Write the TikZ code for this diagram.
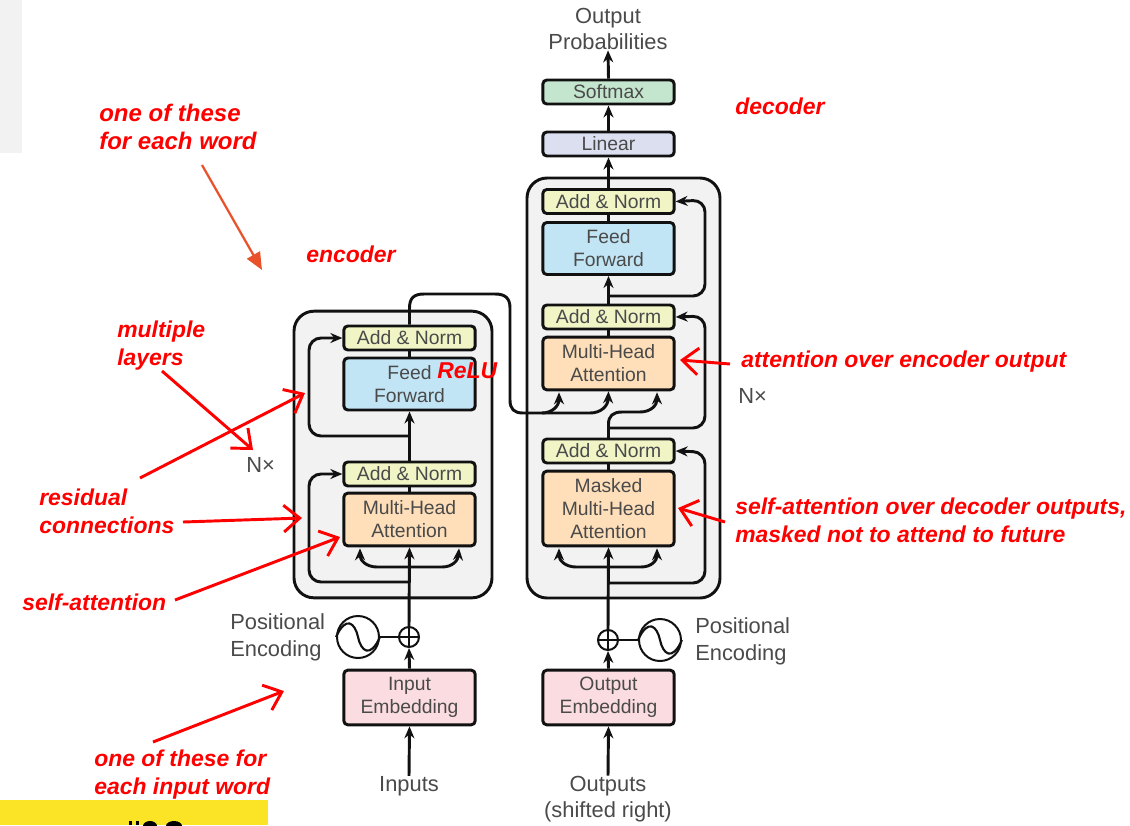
\documentclass[tikz,border=0pt]{standalone}
\usepackage{fontspec}
\setmainfont{Liberation Sans}
\usetikzlibrary{arrows.meta,calc}
\definecolor{panelgrey}{HTML}{F2F2F2}
\definecolor{addnorm}{HTML}{F1F5C6}
\definecolor{feedfwd}{HTML}{C2E5F5}
\definecolor{attn}{HTML}{FEDFB9}
\definecolor{embed}{HTML}{FBDCE0}
\definecolor{lineartone}{HTML}{DCDFF0}
\definecolor{softmaxtone}{HTML}{C5E6CE}
\definecolor{labelgrey}{HTML}{4A4A4A}
\definecolor{linecol}{HTML}{111111}
\definecolor{bannertone}{HTML}{FBE426}
\definecolor{orangearrow}{HTML}{E8512A}
\tikzset{
  x=0.75pt,y=-0.75pt,
  panel/.style={draw=linecol,fill=panelgrey,line width=2.2pt,rounded corners=15pt},
  block/.style={draw=linecol,line width=2.2pt,rounded corners=3pt,minimum width=98.5pt,inner sep=0pt,
     text=labelgrey,align=center,font=\fontsize{14.5}{17.2}\selectfont},
  lab/.style={text=labelgrey,inner sep=0pt,font=\fontsize{16.4}{20}\selectfont},
  note/.style={text=red,inner sep=0pt,align=left,font=\fontsize{17.2}{21}\selectfont\bfseries\itshape},
  wire/.style={draw=linecol,line width=2.2pt,rounded corners=9pt},
  thin wire/.style={draw=linecol,line width=1.6pt},
  tip/.style={-{Stealth[length=9pt,width=7.5pt]}},
  callout/.style={draw=red,line width=2.2pt,-{Straight Barb[length=12pt,width=20pt,line width=2.2pt]}},
}
\begin{document}
\begin{tikzpicture}
\useasboundingbox (0,0) rectangle (1130,825);
% background scraps
\fill[panelgrey] (0,0) rectangle (22,153);
\fill[bannertone] (0,800) rectangle (268,825);
\begin{scope}
\clip (0,800) rectangle (268,825);
\fill[black] (129,821) rectangle (132,825);
\fill[black] (136,821) rectangle (139,825);
\fill[black] (150,826) ellipse (7 and 5);
\fill[black] (174,826) ellipse (8 and 5);
\end{scope}
% panels
\node[panel,minimum width=148.5pt,minimum height=215pt,inner sep=0pt] (encpanel) at (393,454.5) {};
\node[panel,minimum width=144.75pt,minimum height=315pt,inner sep=0pt] (decpanel) at (623.5,388) {};
% encoder blocks
\node[block,fill=addnorm,minimum height=18pt] (ean2) at (409.5,338) {Add \& Norm};
\node[block,fill=feedfwd,minimum height=39pt] (eff) at (409.5,384) {Feed\\Forward};
\node[block,fill=addnorm,minimum height=18pt] (ean1) at (409.5,474) {Add \& Norm};
\node[block,fill=attn,minimum height=39.5pt] (emha) at (409.5,519.5) {Multi-Head\\Attention};
\node[block,fill=embed,minimum height=41pt] (eemb) at (409.5,697.5) {Input\\Embedding};
% decoder blocks
\node[block,fill=softmaxtone,minimum height=18pt] (soft) at (608.5,92) {Softmax};
\node[block,fill=lineartone,minimum height=18pt] (lin) at (608.5,144) {Linear};
\node[block,fill=addnorm,minimum height=18pt] (dan3) at (608.5,201.5) {Add \& Norm};
\node[block,fill=feedfwd,minimum height=39pt] (dff) at (608.5,248.5) {Feed\\Forward};
\node[block,fill=addnorm,minimum height=18pt] (dan2) at (608.5,317) {Add \& Norm};
\node[block,fill=attn,minimum height=39.5pt] (dmha) at (608.5,363.5) {Multi-Head\\Attention};
\node[block,fill=addnorm,minimum height=18pt] (dan1) at (608.5,451) {Add \& Norm};
\node[block,fill=attn,minimum height=56pt] (dmask) at (608.5,508.5) {Masked\\Multi-Head\\Attention};
\node[block,fill=embed,minimum height=41pt] (demb) at (608.5,697.5) {Output\\Embedding};
% text labels
\node[lab,align=center] (outprob) at (608,29) {Output\\Probabilities};
\node[lab] (inputs) at (409,786) {Inputs};
\node[lab,align=center] (outputs) at (608,799) {Outputs\\(shifted right)};
\node[lab,align=left,anchor=west] (pel) at (230,637) {Positional\\Encoding};
\node[lab,align=left,anchor=west] (per) at (695,641) {Positional\\Encoding};
\node[lab,anchor=west] (nxe) at (246,465) {N×};
\node[lab,anchor=west] (nxd) at (738,396) {N×};
% add + sine
\node[draw=linecol,line width=1.5pt,circle,minimum size=15pt,inner sep=0pt,fill=white] (eplus) at (409,637) {};
\node[draw=linecol,line width=1.5pt,circle,minimum size=15pt,inner sep=0pt,fill=white] (dplus) at (608,640) {};
\node[draw=linecol,line width=1.5pt,circle,minimum size=31.5pt,inner sep=0pt,fill=white] (esin) at (358,637) {};
\node[draw=linecol,line width=1.5pt,circle,minimum size=31.5pt,inner sep=0pt,fill=white] (dsin) at (660,640) {};
\draw[thin wire] (eplus.north) -- (eplus.south) (eplus.west) -- (eplus.east);
\draw[thin wire] (dplus.north) -- (dplus.south) (dplus.west) -- (dplus.east);
\draw[thin wire] (esin.west) .. controls ($(esin.center)+(-12,-22)$) and ($(esin.center)+(-3,-14)$) .. (esin.center)
   .. controls ($(esin.center)+(3,14)$) and ($(esin.center)+(12,22)$) .. (esin.east);
\draw[thin wire] (dsin.west) .. controls ($(dsin.center)+(-12,-22)$) and ($(dsin.center)+(-3,-14)$) .. (dsin.center)
   .. controls ($(dsin.center)+(3,14)$) and ($(dsin.center)+(12,22)$) .. (dsin.east);
\draw[thin wire] (esin) -- (eplus);
\draw[thin wire] (dplus) -- (dsin);
% wiring coordinates
\coordinate (ejlow) at (409.5,582);
\coordinate (ejhigh) at (409.5,436);
\coordinate (efork) at (409.5,567);
\coordinate (djlow) at (608.5,583);
\coordinate (djmid) at (608.5,428);
\coordinate (djtop) at (608.5,296);
\coordinate (dfork) at (608.5,567);
% encoder wires
\draw[wire,tip] (inputs.north) -- (eemb.south);
\draw[wire,tip] (eemb.north) -- (eplus.south);
\draw[wire,tip] (eplus.north) -- (emha.south);
\draw[wire] (emha.north) -- (ean1.south);
\draw[wire,tip] (ean1.north) -- (eff.south);
\draw[wire] (eff.north) -- (ean2.south);
\draw[wire,tip] (ejlow) -- (309,582) -- (309,474) -- (ean1.west);
\draw[wire,tip] (ejhigh) -- (309,436) -- (309,338) -- (ean2.west);
\draw[wire,rounded corners=0pt,tip] (efork) -- (377,567) .. controls (366,567) and (360,560) .. ($(emha.south)+(-49.5,1)$);
\draw[wire,rounded corners=0pt,tip] (efork) -- (442,567) .. controls (453,567) and (458,560) .. ($(emha.south)+(49.5,1)$);
% decoder wires
\draw[wire,tip] (outputs.north) -- (demb.south);
\draw[wire,tip] (demb.north) -- (dplus.south);
\draw[wire,tip] (dplus.north) -- (dmask.south);
\draw[wire] (dmask.north) -- (dan1.south);
\draw[wire] (dan1.north) -- (djmid);
\draw[wire] (dmha.north) -- (dan2.south);
\draw[wire,tip] (dan2.north) -- (dff.south);
\draw[wire] (dff.north) -- (dan3.south);
\draw[wire,tip] (dan3.north) -- (lin.south);
\draw[wire,tip] (lin.north) -- (soft.south);
\draw[wire,tip] (soft.north) -- (outprob.south);
\draw[wire,tip] (djlow) -- (705,583) -- (705,452) -- (dan1.east);
\draw[wire,tip] (djmid) -- (705,428) -- (705,316) -- (dan2.east);
\draw[wire,tip] (djtop) -- (705,296) -- (705,200) -- (dan3.east);
\draw[wire,rounded corners=0pt,tip] (dfork) -- (576,567) .. controls (565,567) and (559,560) .. ($(dmask.south)+(-49.5,1)$);
\draw[wire,rounded corners=0pt,tip] (dfork) -- (641,567) .. controls (652,567) and (657,560) .. ($(dmask.south)+(48.5,1)$);
% encoder to decoder
\draw[wire,tip,rounded corners=0pt] (ean2.north) -- (409.5,308) .. controls (409.5,298) and (414,294) .. (424,294)
  -- (495,294) .. controls (505,294) and (510,298) .. (510,308)
  -- (510,400) .. controls (510,409) and (514,413) .. (523,413)
  -- (542,413) .. controls (552,413) and (559,406) .. ($(dmha.south)+(-49.5,1)$);
\draw[wire,tip,rounded corners=0pt] (542,413) -- (590,413) .. controls (601,413) and (608,406) .. (dmha.south);
\draw[wire,tip,rounded corners=0pt] (djmid) -- (608.5,424) .. controls (608.5,416) and (613,412) .. (622,412)
  -- (640,412) .. controls (651,412) and (657,405) .. ($(dmha.south)+(48.5,1)$);
% red notes
\node[note,anchor=west,font=\fontsize{18}{21}\selectfont\bfseries\itshape] (n1) at (99,127) {one of these\\for each word};
\node[note,anchor=west] (n2) at (306,254) {encoder};
\node[note,anchor=west] (n3) at (735,106) {decoder};
\node[note,anchor=west] (n4) at (437,371) {ReLU};
\node[note,anchor=west] (n5) at (117,345.5) {multiple\\layers};
\node[note,anchor=west] (n6) at (39,511) {residual\\connections};
\node[note,anchor=west] (n7) at (22,602) {self-attention};
\node[note,anchor=west] (n8) at (94,774.5) {one of these for\\each input word};
\node[note,anchor=west] (n9) at (741,362) {attention over encoder output};
\node[note,anchor=west] (n10) at (735,520) {self-attention over decoder outputs,\\masked not to attend to future};
% red callouts
\coordinate (c1a) at (202,165); \coordinate (c1b) at (262,270);
\draw[draw=orangearrow,line width=1.7pt,-{Triangle[length=13pt,width=11pt,fill=orangearrow]}] (c1a) -- (c1b);
\coordinate (c2a) at (162,371); \coordinate (c2b) at (253,450);
\draw[callout] (c2a) -- (c2b);
\coordinate (c3a) at (140,478); \coordinate (c3b) at (305,393);
\draw[callout] (c3a) -- (c3b);
\coordinate (c4a) at (183,522); \coordinate (c4b) at (302,518);
\draw[callout] (c4a) -- (c4b);
\coordinate (c5a) at (175,600); \coordinate (c5b) at (340,537);
\draw[callout] (c5a) -- (c5b);
\coordinate (c6a) at (153,742); \coordinate (c6b) at (284,691);
\draw[callout] (c6a) -- (c6b);
\coordinate (c7a) at (730,364); \coordinate (c7b) at (680,360);
\draw[callout] (c7a) -- (c7b);
\coordinate (c8a) at (725,522); \coordinate (c8b) at (678,508);
\draw[callout] (c8a) -- (c8b);
\end{tikzpicture}
\end{document}
